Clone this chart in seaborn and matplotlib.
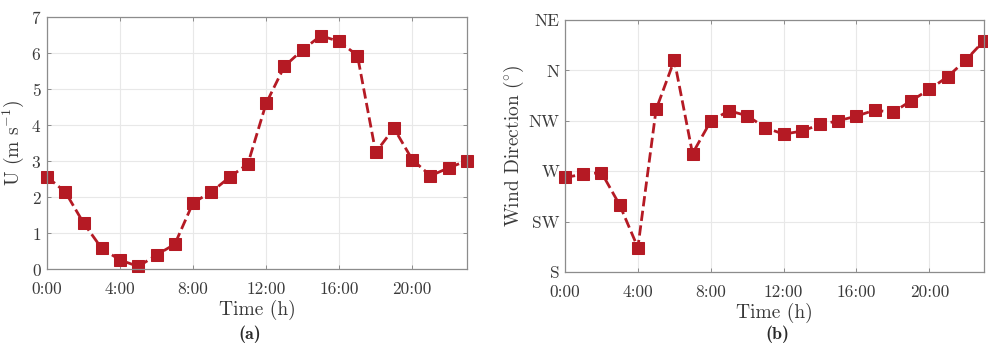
import numpy as np
import pandas as pd
import seaborn as sns
import matplotlib.pyplot as plt

hours = list(range(24))
wind_speed = [2.56, 2.14, 1.28, 0.57, 0.25, 0.07, 0.39, 0.69, 1.84, 2.14, 2.55, 2.92,
              4.60, 5.63, 6.09, 6.48, 6.32, 5.93, 3.24, 3.91, 3.04, 2.59, 2.81, 3.01]
wind_dir = [264.4, 267.3, 268.8, 239.9, 201.8, 325.1, 369.2, 285.8, 314.7, 324.0, 319.5, 308.8,
            303.1, 305.8, 311.7, 315.0, 319.2, 324.5, 322.5, 332.9, 343.0, 354.3, 369.2, 386.5]
time_ticks = [0, 4, 8, 12, 16, 20]
time_labels = ["0:00", "4:00", "8:00", "12:00", "16:00", "20:00"]
dir_ticks = [180, 225, 270, 315, 360, 405]
dir_labels = ["S", "SW", "W", "NW", "N", "NE"]

df = pd.DataFrame({"hour": hours, "speed": wind_speed, "direction": wind_dir})

sns.set_theme(style="whitegrid")
plt.rcParams.update({
    "font.family": ["cmr10", "DejaVu Serif"],
    "mathtext.fontset": "cm",
    "axes.formatter.use_mathtext": True,
    "axes.unicode_minus": False,
})

red = "#b51a24"
fig = plt.figure(figsize=(9.88, 3.44), dpi=100)
ax1 = fig.add_axes([47 / 988, 1 - 269 / 344, 420 / 988, 252 / 344])
ax2 = fig.add_axes([565 / 988, 1 - 272 / 344, 419 / 988, 252 / 344])

line_kw = dict(color=red, linestyle="--", linewidth=2.0, marker="s",
               markersize=8.5, markeredgecolor=red, markerfacecolor=red)

sns.lineplot(data=df, x="hour", y="speed", ax=ax1, clip_on=False, **line_kw)
sns.lineplot(data=df, x="hour", y="direction", ax=ax2, clip_on=False, **line_kw)

for ax in (ax1, ax2):
    ax.set_xlim(0, 23)
    ax.set_xticks(time_ticks)
    ax.set_xticklabels(time_labels)
    ax.set_xlabel("Time (h)", fontsize=14, labelpad=2)
    ax.grid(True, color="#e8e8e8", linewidth=0.8)
    for s in ax.spines.values():
        s.set_color("#8c8c8c")
        s.set_linewidth(0.9)
    ax.tick_params(axis="both", which="both", direction="in", length=3, width=0.7,
                   color="#8c8c8c", labelsize=12.5, labelcolor="#3a3a3a",
                   top=True, right=True, bottom=True, left=True)
    ax.tick_params(axis="x", pad=9)
    ax.tick_params(axis="y", pad=4)
    ax.xaxis.label.set_color("#3a3a3a")
    ax.yaxis.label.set_color("#3a3a3a")

ax1.set_ylim(0, 7)
ax1.set_yticks(range(8))
ax1.set_ylabel(r"U (m s$^{-1}$)", fontsize=14, labelpad=4)

ax2.set_ylim(180, 405)
ax2.set_yticks(dir_ticks)
ax2.set_yticklabels(dir_labels)
ax2.set_ylabel(r"Wind Direction ($^{\circ}$)", fontsize=14, labelpad=2)

fig.text(250 / 988, 1 - 334 / 344, "(a)", ha="center", va="center",
         fontsize=13, color="#2a2a2a", family=["cmb10", "DejaVu Serif"])
fig.text(777 / 988, 1 - 334 / 344, "(b)", ha="center", va="center",
         fontsize=13, color="#2a2a2a", family=["cmb10", "DejaVu Serif"])

fig.savefig("out.png", dpi=100, facecolor="white")
